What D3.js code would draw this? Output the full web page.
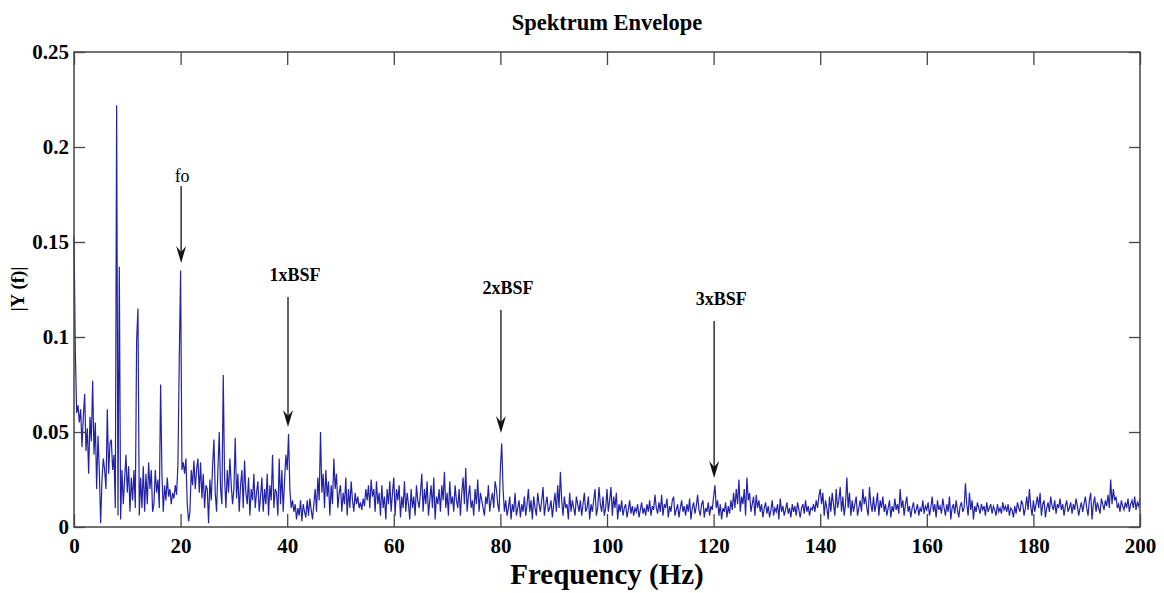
<!DOCTYPE html>
<html>
<head>
<meta charset="utf-8">
<script src="https://cdn.jsdelivr.net/npm/d3@7"></script>
<style>
  body { margin: 0; background: #fff; }
  svg text { font-family: "Liberation Serif", "Times New Roman", serif; fill: #000; }
</style>
</head>
<body>
<svg id="chart" width="1164" height="593"></svg>
<script>
// envelope spectrum, |Y(f)| in units of 1e-3, one value every 0.25 Hz from 0 to 200 Hz
const df = 0.25;
const magMilli = [
  153, 92, 60, 64, 55, 62, 42, 58, 70, 40, 52, 28, 58, 45, 77, 38, 55, 20, 48, 30,
  2, 25, 36, 30, 20, 62, 28, 44, 46, 30, 38, 10, 222, 6, 137, 4, 30, 12, 25, 38,
  18, 32, 8, 26, 14, 30, 10, 98, 115, 6, 26, 10, 32, 8, 28, 12, 34, 20, 30, 8,
  12, 30, 18, 25, 10, 75, 28, 8, 22, 14, 26, 16, 20, 12, 18, 15, 22, 17, 33, 88,
  135, 30, 34, 28, 36, 12, 3, 8, 30, 22, 35, 20, 30, 36, 18, 34, 15, 28, 10, 22,
  20, 2, 25, 14, 32, 46, 18, 8, 30, 50, 20, 12, 80, 26, 10, 30, 18, 36, 22, 12,
  20, 47, 15, 28, 8, 22, 30, 10, 35, 18, 12, 26, 6, 20, 14, 28, 10, 18, 24, 8,
  16, 26, 8, 20, 12, 28, 6, 22, 14, 38, 10, 20, 18, 6, 36, 12, 30, 8, 24, 38,
  30, 49, 20, 10, 14, 8, 12, 4, 10, 6, 14, 3, 12, 8, 5, 14, 6, 15, 9, 4,
  12, 20, 8, 26, 14, 50, 18, 28, 10, 30, 16, 24, 6, 22, 12, 36, 20, 28, 10, 18,
  22, 8, 18, 12, 26, 6, 20, 10, 24, 14, 8, 18, 12, 16, 10, 13, 9, 15, 11, 20,
  14, 22, 10, 25, 16, 20, 8, 24, 12, 18, 6, 22, 10, 16, 4, 20, 12, 24, 8, 18,
  26, 6, 20, 14, 22, 5, 16, 10, 24, 8, 18, 12, 4, 20, 10, 16, 6, 22, 14, 10,
  18, 28, 8, 20, 12, 24, 6, 14, 22, 10, 26, 4, 16, 12, 20, 8, 22, 14, 29, 10,
  18, 6, 24, 12, 16, 8, 22, 14, 10, 20, 6, 18, 26, 12, 31, 8, 16, 22, 10, 14,
  6, 20, 12, 25, 8, 18, 14, 10, 6, 16, 12, 22, 8, 14, 18, 10, 24, 20, 12, 8,
  31, 44, 20, 8, 14, 6, 10, 16, 4, 12, 8, 18, 6, 10, 14, 5, 12, 8, 16, 6,
  12, 20, 8, 14, 4, 16, 10, 6, 18, 12, 8, 14, 21, 6, 12, 16, 8, 10, 14, 5,
  12, 18, 8, 22, 10, 29, 14, 6, 16, 10, 12, 4, 18, 8, 14, 10, 6, 16, 12, 8,
  14, 6, 12, 18, 8, 10, 16, 4, 12, 8, 14, 20, 6, 10, 21, 12, 8, 16, 6, 10,
  20, 8, 14, 21, 6, 16, 10, 18, 4, 12, 8, 14, 6, 10, 12, 5, 9, 14, 7, 11,
  6, 10, 8, 12, 5, 9, 13, 7, 10, 6, 12, 8, 14, 6, 11, 9, 17, 10, 7, 13,
  8, 17, 6, 12, 10, 15, 5, 11, 8, 14, 16, 6, 9, 12, 5, 10, 14, 8, 11, 6,
  12, 8, 15, 4, 10, 13, 7, 11, 17, 9, 6, 12, 14, 5, 10, 8, 13, 6, 11, 9,
  16, 22, 10, 14, 6, 12, 4, 10, 8, 13, 5, 11, 7, 14, 9, 18, 10, 20, 12, 25,
  8, 16, 12, 20, 6, 26, 14, 18, 8, 12, 16, 6, 17, 10, 14, 8, 12, 5, 10, 13,
  7, 11, 5, 9, 14, 6, 10, 8, 12, 4, 15, 8, 11, 6, 9, 13, 7, 10, 5, 12,
  8, 11, 6, 13, 9, 5, 10, 12, 7, 14, 8, 11, 6, 10, 9, 12, 8, 14, 10, 16,
  20, 12, 18, 6, 14, 10, 4, 16, 8, 18, 12, 6, 20, 10, 14, 21, 8, 16, 6, 12,
  26, 10, 18, 6, 14, 8, 12, 16, 6, 10, 14, 8, 20, 12, 16, 10, 6, 21, 12, 8,
  16, 8, 12, 18, 6, 14, 10, 16, 8, 12, 6, 10, 14, 5, 11, 8, 15, 9, 12, 7,
  20, 10, 14, 6, 12, 16, 8, 11, 5, 10, 13, 7, 9, 12, 6, 10, 8, 14, 7, 11,
  9, 13, 6, 10, 16, 8, 12, 5, 14, 9, 11, 7, 15, 10, 6, 12, 8, 16, 4, 10,
  12, 7, 14, 9, 5, 11, 13, 8, 10, 23, 12, 6, 18, 9, 14, 4, 11, 8, 13, 10,
  7, 12, 9, 11, 6, 13, 8, 10, 12, 7, 11, 9, 6, 12, 8, 10, 7, 13, 9, 11,
  8, 12, 6, 10, 9, 5, 11, 7, 13, 10, 8, 14, 12, 6, 10, 16, 9, 20, 11, 6,
  14, 8, 12, 16, 10, 18, 6, 12, 14, 5, 10, 13, 8, 16, 11, 9, 14, 7, 12, 10,
  15, 9, 12, 6, 11, 14, 8, 10, 13, 7, 12, 9, 15, 11, 6, 10, 13, 8, 12, 16,
  10, 6, 14, 18, 4, 12, 16, 8, 13, 10, 7, 15, 12, 9, 14, 11, 17, 10, 25, 12,
  20, 14, 16, 10, 12, 8, 14, 11, 9, 13, 10, 15, 8, 12, 14, 10, 16, 9, 13, 11,
  15
];

const xTicks = [0, 20, 40, 60, 80, 100, 120, 140, 160, 180, 200];
const yTicks = [0, 0.05, 0.1, 0.15, 0.2, 0.25];
const yTickLabels = ["0", "0.05", "0.1", "0.15", "0.2", "0.25"];

// annotated peaks: label, frequency of arrow, arrow start / end values
const markLabels = ["fo", "1xBSF", "2xBSF", "3xBSF"];
const markFreq = [20.1, 40.15, 80.1, 120.1];
const markFrom = [0.1795, 0.1210, 0.1142, 0.1084];
const markTo = [0.1390, 0.0526, 0.0495, 0.0258];

const spectrum = magMilli.map((m, i) => ({ f: i * df, v: m / 1000 }));

const svg = d3.select("#chart");
const box = { left: 74, right: 1140, top: 52, bottom: 527 };

const x = d3.scaleLinear().domain([0, 200]).range([box.left, box.right]);
const y = d3.scaleLinear().domain([0, 0.25]).range([box.bottom, box.top]);

// spectrum line
svg.append("path")
  .datum(spectrum)
  .attr("fill", "none")
  .attr("stroke", "#2222a8")
  .attr("stroke-width", 1.2)
  .attr("d", d3.line().x(d => x(d.f)).y(d => y(d.v)));

// axes, ticks pointing inwards like matlab
const axisColor = "#444";
function styleAxis(g) {
  g.select(".domain").remove();
  g.selectAll(".tick line").attr("stroke", axisColor).attr("stroke-width", 1.3);
  g.selectAll(".tick text")
    .attr("font-size", 21)
    .attr("font-weight", "bold")
    .attr("fill", "#000");
}

svg.append("g")
  .attr("transform", `translate(0,${box.bottom})`)
  .call(d3.axisBottom(x).tickValues(xTicks).tickFormat(d3.format("d")).tickSize(-13).tickPadding(11))
  .call(styleAxis);
svg.append("g")
  .attr("transform", `translate(0,${box.top})`)
  .call(d3.axisTop(x).tickValues(xTicks).tickFormat("").tickSize(-13))
  .call(styleAxis);
svg.append("g")
  .attr("transform", `translate(${box.left},0)`)
  .call(d3.axisLeft(y).tickValues(yTicks).tickFormat((d, i) => yTickLabels[i]).tickSize(-11).tickPadding(5))
  .call(styleAxis);
svg.append("g")
  .attr("transform", `translate(${box.right},0)`)
  .call(d3.axisRight(y).tickValues(yTicks).tickFormat("").tickSize(-11))
  .call(styleAxis);

svg.append("rect")
  .attr("x", box.left).attr("y", box.top)
  .attr("width", box.right - box.left).attr("height", box.bottom - box.top)
  .attr("fill", "none")
  .attr("stroke", axisColor)
  .attr("stroke-width", 1.5);

// arrows with labels
markLabels.forEach((lab, i) => {
  const ax = x(markFreq[i]);
  const y0 = y(markFrom[i]);
  const y1 = y(markTo[i]);
  svg.append("line")
    .attr("x1", ax).attr("x2", ax)
    .attr("y1", y0).attr("y2", y1 - 8)
    .attr("stroke", "#222").attr("stroke-width", 1.4);
  svg.append("path")
    .attr("d", `M${ax},${y1} L${ax - 5},${y1 - 17} L${ax},${y1 - 11} L${ax + 5},${y1 - 17} Z`)
    .attr("fill", "#111");
  svg.append("text")
    .attr("x", i === 0 ? ax + 1 : ax + 7)
    .attr("y", i === 0 ? y0 - 4 : y0 - 16)
    .attr("text-anchor", "middle")
    .attr("font-size", 18)
    .attr("font-weight", i === 0 ? "normal" : "bold")
    .text(lab);
});

// titles
svg.append("text")
  .attr("x", 607).attr("y", 30)
  .attr("text-anchor", "middle")
  .attr("font-size", 22.5)
  .attr("font-weight", "bold")
  .text("Spektrum Envelope");

svg.append("text")
  .attr("x", 607).attr("y", 584)
  .attr("text-anchor", "middle")
  .attr("font-size", 29)
  .attr("font-weight", "bold")
  .text("Frequency (Hz)");

svg.append("text")
  .attr("transform", `translate(24,289) rotate(-90)`)
  .attr("text-anchor", "middle")
  .attr("font-size", 19)
  .attr("font-weight", "bold")
  .text("|Y (f)|");
</script>
</body>
</html>
